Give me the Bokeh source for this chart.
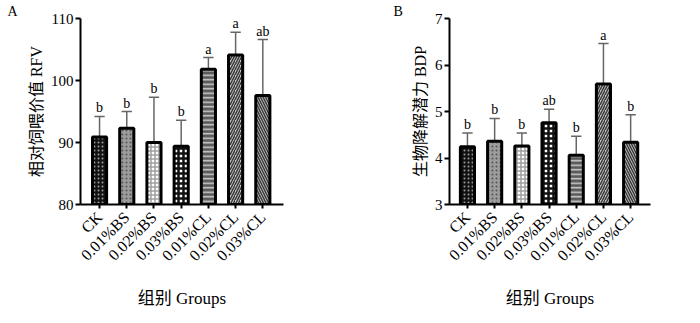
import math
import numpy as np
from bokeh.plotting import figure
from bokeh.layouts import row
from bokeh.models import Range1d, FixedTicker, ColumnDataSource
from bokeh.core.properties import value
from bokeh.embed import file_html
from bokeh.resources import INLINE

groups = ["CK", "0.01%BS", "0.02%BS", "0.03%BS", "0.01%CL", "0.02%CL", "0.03%CL"]
rfv_mean = [90.9, 92.3, 90.0, 89.4, 101.8, 104.1, 97.6]
rfv_upper = [94.2, 95.0, 97.3, 93.6, 103.7, 107.8, 106.6]
rfv_letters = ["b", "b", "b", "b", "a", "a", "ab"]
bdp_mean = [4.24, 4.36, 4.26, 4.76, 4.06, 5.59, 4.34]
bdp_upper = [4.54, 4.85, 4.54, 5.05, 4.47, 6.46, 4.93]
bdp_letters = ["b", "b", "b", "ab", "b", "a", "b"]
rfv_ticks = [80, 90, 100, 110]
bdp_ticks = [3, 4, 5, 6, 7]

fill_colors = ["#111111", "#9c9c9c", "#ffffff", "#ffffff", "#5a5a5a", "#c8c8c8", "#c8c8c8"]
hatch_patterns = ["dot", "dot", "cross", "cross", "horizontal_line",
                  "right_diagonal_line", "left_diagonal_line"]
hatch_colors = ["#9a9a9a", "#555555", "#a0a0a0", "#111111", "#cfcfcf", "#3a3a3a", "#3a3a3a"]
hatch_scales = [4, 4, 4, 5, 4.5, 5, 5]
hatch_weights = [1.5, 1.5, 1.5, 2.5, 1.5, 1.5, 1.5]

SERIF = "Liberation Serif, Noto Sans CJK SC"


def panel(mean, upper, letters, ticks, ylabel, tag, xr, ml, mr, tag_offset):
    ymin, ymax = ticks[0], ticks[-1]
    xs = np.arange(len(groups), dtype=float)
    p = figure(width=350, height=323, output_backend="svg", toolbar_location=None,
               x_range=Range1d(*xr), y_range=Range1d(ymin, ymax),
               min_border_left=ml, min_border_right=mr,
               min_border_top=18, min_border_bottom=119)
    p.xgrid.visible = False
    p.ygrid.visible = False
    p.outline_line_color = None
    p.background_fill_color = "white"
    p.border_fill_color = "white"

    p.title.text = tag
    p.title.align = "left"
    p.title.offset = tag_offset
    p.title.standoff = 0
    p.title.text_font = "Liberation Serif"
    p.title.text_font_size = "14px"
    p.title.text_font_style = "normal"
    p.title.text_color = "black"

    src = ColumnDataSource(dict(
        x=xs, top=mean, upper=upper, letters=letters,
        fill=fill_colors, hp=hatch_patterns, hc=hatch_colors,
        hs=hatch_scales, hw=hatch_weights,
        cap0=xs - 0.19, cap1=xs + 0.19))

    p.segment(x0="x", y0="top", x1="x", y1="upper", source=src,
              line_color="#666666", line_width=1.5)
    p.segment(x0="cap0", y0="upper", x1="cap1", y1="upper", source=src,
              line_color="#666666", line_width=1.5)
    p.vbar(x="x", top="top", bottom=ymin, width=0.52, source=src,
           fill_color="fill", line_color="black", line_width=3,
           hatch_pattern="hp", hatch_color="hc", hatch_scale="hs", hatch_weight="hw")
    p.text(x="x", y="upper", text="letters", source=src,
           text_font=value("Liberation Serif"), text_font_size="14px",
           text_align="center", text_baseline="bottom", y_offset=-1,
           text_color="#000000")

    for ax in (p.xaxis[0], p.yaxis[0]):
        ax.axis_line_width = 2
        ax.axis_line_color = "black"
        ax.major_tick_line_width = 2
        ax.major_tick_line_color = "black"
        ax.major_tick_in = 0
        ax.major_tick_out = 5
        ax.minor_tick_line_color = None
        ax.major_label_text_font = SERIF
        ax.major_label_text_color = "black"
        ax.axis_label_text_font = SERIF
        ax.axis_label_text_font_style = "normal"
        ax.axis_label_text_color = "black"

    p.yaxis.ticker = FixedTicker(ticks=ticks)
    p.yaxis.major_label_text_font_size = "15px"
    p.yaxis.major_label_standoff = 2
    p.yaxis.axis_label = ylabel
    p.yaxis.axis_label_text_font_size = "16px"
    p.yaxis.axis_label_standoff = 3

    p.xaxis.ticker = FixedTicker(ticks=list(xs))
    p.xaxis.major_label_overrides = {i: g for i, g in enumerate(groups)}
    p.xaxis.major_label_orientation = math.pi / 4
    p.xaxis.major_label_text_font_size = "16px"
    p.xaxis.major_tick_out = 4
    p.xaxis.major_label_standoff = 6
    p.xaxis.axis_label = "组别 Groups"
    p.xaxis.axis_label_text_font_size = "17px"
    p.xaxis.axis_label_standoff = 16
    return p


pa = panel(rfv_mean, rfv_upper, rfv_letters, rfv_ticks, "相对饲喂价值 RFV", "A",
           (-0.70, 6.76), 80, 67, -73)
pb = panel(bdp_mean, bdp_upper, bdp_letters, bdp_ticks, "生物降解潜力 BDP", "B",
           (-0.66, 6.73), 99, 50, -56)

layout = row(pa, pb)
open("out.html", "w").write(file_html(layout, INLINE))
